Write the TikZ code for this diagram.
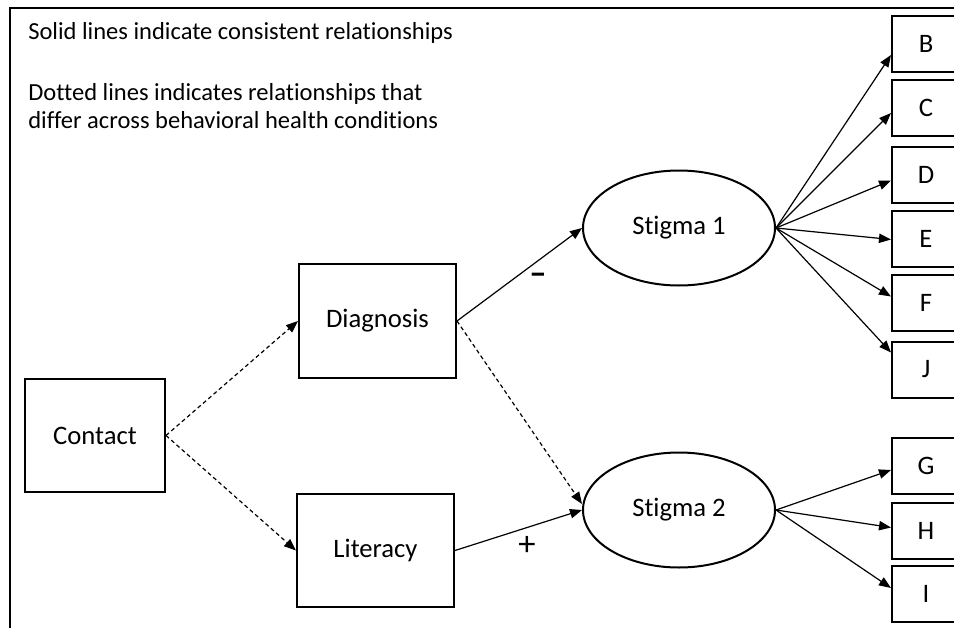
\documentclass[tikz,border=0pt]{standalone}
\usepackage{fontspec}
\setmainfont[Ligatures={TeX,NoCommon}]{Carlito}
\usetikzlibrary{arrows.meta,calc,shapes.geometric}

\begin{document}
\begin{tikzpicture}[x=0.75pt,y=-0.75pt,font=\fontsize{20}{24}\selectfont,
    >={Triangle[length=9pt,width=7pt]},
    box/.style={draw,line width=1.5pt,minimum width=117.75pt,
      minimum height=85.5pt,inner sep=0pt},
    latent/.style={draw,ellipse,line width=1.5pt,minimum width=144pt,
      minimum height=86.25pt,inner sep=0pt},
    item/.style={draw,line width=1.5pt,minimum width=51pt,
      minimum height=42pt,inner sep=0pt},
    sign/.style={font=\fontsize{26}{30}\selectfont,inner sep=0pt},
    link/.style={->,line width=0.9pt},
    varies/.style={->,line width=0.9pt,dash pattern=on 3pt off 2.25pt}]
  \useasboundingbox (0,0) rectangle (954,628);
  \clip (0,0) rectangle (954,628);

  % frame
  \draw[line width=1.5pt] (10,628) -- (10,7.5) -- (960,7.5);

  % legend
  \node[anchor=base west,inner sep=0pt,font=\fontsize{18.4}{21}\selectfont]
    (solidnote) at (28,40) {Solid lines indicate consistent relationships};
  \node[anchor=base west,inner sep=0pt,align=left,
    font=\fontsize{18.4}{21}\selectfont] (dottednote) at (28,128)
    {Dotted lines indicates relationships that\\
     differ across behavioral health conditions};

  % observed and latent variables
  \node[box,minimum width=105pt,minimum height=84.75pt] (contact) at (95,435.5) {Contact};
  \node[box] (diagnosis) at (377.5,321) {Diagnosis};
  \node[box,minimum height=84.75pt] (literacy) at (375.5,550.5) {Literacy};
  \node[latent] (stigma1) at (679,228) {Stigma 1};
  \node[latent] (stigma2) at (679,510) {Stigma 2};

  % indicators
  \foreach \name/\y in {B/44,C/108,D/174.5,E/238.5,F/302.5,J/369.5,
                        G/466,H/530.5,I/594}
    \node[item] (\name) at (926,\y) {\name};

  % paths
  \draw[varies] (contact.east) -- (diagnosis.west);
  \draw[varies] (contact.east) -- (literacy.west);
  \draw[link] (diagnosis.east) -- (stigma1.west);
  \node[sign] (minus) at (538,279) {\textbf{–}};
  \draw[varies] (diagnosis.east) -- ($(stigma2.west)+(0,-6)$);
  \draw[link] (literacy.east) -- (stigma2.west);
  \node[sign] (plus) at (527,546) {+};

  \foreach \name/\dy in {B/11,C/5,D/6,E/1,F/-6,J/-17}
    \draw[link] (stigma1.east) -- ($(\name.west)+(0,\dy)$);
  \foreach \name/\dy in {G/4,H/-3,I/-6}
    \draw[link] (stigma2.east) -- ($(\name.west)+(0,\dy)$);
\end{tikzpicture}
\end{document}
